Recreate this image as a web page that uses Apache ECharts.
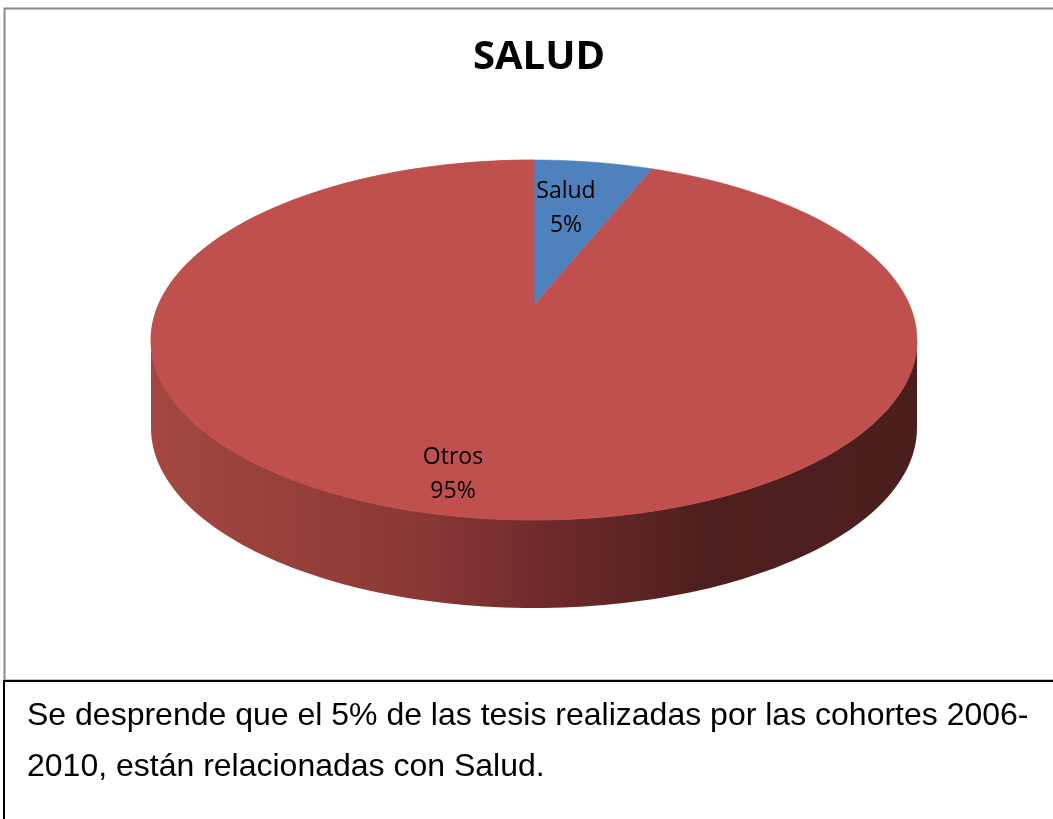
<!DOCTYPE html>
<html>
<head>
<meta charset="utf-8">
<script src="https://cdn.jsdelivr.net/npm/echarts@6/dist/echarts.min.js"></script>
<style>
  html, body { margin: 0; padding: 0; background: #fff; }
  #chart { width: 1053px; height: 819px; }
</style>
</head>
<body>
<div id="chart"></div>
<script>
// datos
var categories = ['Salud', 'Otros'];
var values = [5, 95];
var percents = ['5%', '95%'];
var caption1 = 'Se desprende que el 5% de las tesis realizadas por las cohortes 2006-';
var caption2 = '2010, están relacionadas con Salud.';

var myChart = echarts.init(document.getElementById('chart'));

// geometria de la torta 3D
var cx = 534, cy = 340, rx = 383, ry = 180, depth = 88;
var total = values.reduce(function (a, b) { return a + b; }, 0);

function pt(theta, dy) {
    // theta en grados, 0 arriba, sentido horario
    var r = theta * Math.PI / 180;
    return [cx + rx * Math.sin(r), cy - ry * Math.cos(r) + (dy || 0)];
}

function arcPts(a0, a1, dy) {
    var pts = [];
    var n = Math.max(2, Math.ceil((a1 - a0) / 1.5));
    for (var i = 0; i <= n; i++) {
        pts.push(pt(a0 + (a1 - a0) * i / n, dy));
    }
    return pts;
}

var labelPos = [[566, 208], [453, 474]];
var topColors = ['#4F81BD', '#C0504D'];

function renderItem(params, api) {
    var idx = params.dataIndex;
    var start = 0;
    for (var i = 0; i < idx; i++) start += values[i];
    var a0 = start / total * 360;
    var a1 = (start + api.value(0)) / total * 360;
    var children = [];

    // lado visible (mitad frontal 90..270)
    var s = Math.max(a0, 90), e = Math.min(a1, 270);
    if (e > s) {
        var top = arcPts(s, e, 0);
        var bottom = arcPts(s, e, depth).reverse();
        children.push({
            type: 'polygon',
            shape: { points: top.concat(bottom) },
            style: {
                fill: new echarts.graphic.LinearGradient(0, 0, 1, 0, [
                    { offset: 0, color: '#a44741' },
                    { offset: 0.35, color: '#8a3836' },
                    { offset: 0.55, color: '#6a2828' },
                    { offset: 0.72, color: '#4f1f20' },
                    { offset: 1, color: '#4b1e1e' }
                ], false),
                stroke: null
            }
        });
    }

    // cara superior (el borde de la porcion se ve un poco mas cerrado en perspectiva)
    var pts = arcPts(a0, a1, 0);
    children.push({
        type: 'polygon',
        shape: { points: [[cx, cy - 35]].concat(pts) },
        style: { fill: topColors[idx], stroke: topColors[idx], lineWidth: 0.5 }
    });
    if (idx === 1) {
        children.push({
            type: 'polygon',
            shape: { points: [[cx, cy]].concat(arcPts(90, 360, 0)) },
            style: { fill: topColors[idx], stroke: topColors[idx], lineWidth: 0.5 }
        });
    }

    children.push({
        type: 'text',
        style: {
            text: categories[idx] + '\n' + percents[idx],
            x: labelPos[idx][0],
            y: labelPos[idx][1],
            align: 'center',
            verticalAlign: 'middle',
            fill: '#000',
            font: '23px "Open Sans", "Noto Sans", sans-serif',
            lineHeight: 34
        }
    });

    return { type: 'group', children: children };
}

var option = {
    backgroundColor: '#fff',
    animation: false,
    title: {
        text: 'SALUD',
        left: 534,
        top: 33,
        textAlign: 'center',
        textStyle: {
            fontFamily: '"Open Sans", "Noto Sans", sans-serif',
            fontSize: 40,
            fontWeight: 'bold',
            color: '#000'
        }
    },
    graphic: [
        {
            type: 'rect',
            shape: { x: 4.5, y: 8.5, width: 1060, height: 672 },
            style: { fill: null, stroke: '#8a8a8a', lineWidth: 2 },
            z: 10
        },
        {
            type: 'rect',
            shape: { x: 4, y: 681, width: 1060, height: 160 },
            style: { fill: '#fff', stroke: '#000', lineWidth: 2 },
            z: 11
        },
        {
            type: 'text',
            style: {
                text: caption1 + '\n' + caption2,
                x: 27,
                y: 691,
                fill: '#000',
                font: '32px "Liberation Sans", Arial, sans-serif',
                lineHeight: 51
            },
            z: 12
        }
    ],
    series: [{
        type: 'custom',
        coordinateSystem: 'none',
        renderItem: renderItem,
        data: values.map(function (v, i) { return { name: categories[i], value: [v] }; })
    }]
};

myChart.setOption(option);
</script>
</body>
</html>
